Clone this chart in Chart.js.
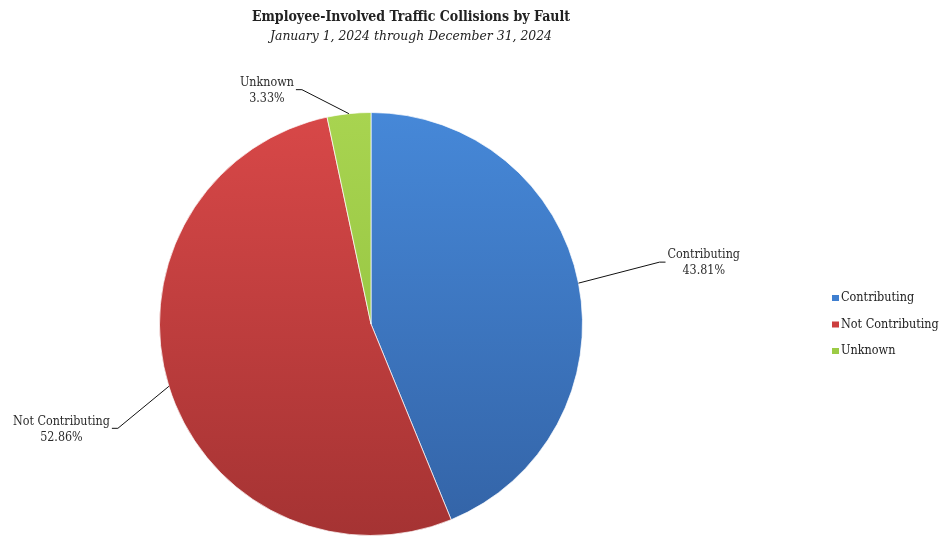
<!DOCTYPE html>
<html>
<head>
    <title>Collisions by Fault</title>
    <meta charset="utf-8">
    <style>
        body{ margin:0; background:#fff;}
        .wrapper{position:relative; width:942px; height:538px;}
    </style>
    <script src="https://cdn.jsdelivr.net/npm/chart.js@4.4.1/dist/chart.umd.min.js"></script>
</head>
<body>
    <div class="wrapper">
        <canvas id="myChart" width="942" height="538"></canvas>
    </div>

    <script>
        // data
        var categories = ['Contributing', 'Not Contributing', 'Unknown'];
        var shares = [43.81, 52.86, 3.33];
        var pctLabels = ['43.81%', '52.86%', '3.33%'];

        var titleText = 'Employee-Involved Traffic Collisions by Fault';
        var subtitleText = 'January 1, 2024 through December 31, 2024';

        // colours: [top, bottom] of each slice
        var sliceColors = [
            ['#4688d8', '#3363a6'],
            ['#d84848', '#a53333'],
            ['#a8d450', '#8cbc3a']
        ];
        var legendColors = ['#3f7fd0', '#cc3e3e', '#9ccb45'];

        // where each leader line bends, relative to the slice's edge point
        var leaderStyle = [
            { dx: 81, dy: -21, side: 1 },
            { dx: -51, dy: 42, side: -1 },
            { dx: -47, dy: -24, side: -1 }
        ];

        var labelFont = '12.4px "DejaVu Serif Condensed", "DejaVu Serif", serif';

        function sliceFill(ctx) {
            var chart = ctx.chart;
            var area = chart.chartArea;
            if (!area) return sliceColors[ctx.dataIndex][0];
            var g = chart.ctx.createLinearGradient(0, area.top, 0, area.bottom);
            g.addColorStop(0, sliceColors[ctx.dataIndex][0]);
            g.addColorStop(1, sliceColors[ctx.dataIndex][1]);
            return g;
        }

        /* titles, leader labels and legend */
        var decorPlugin = {
            id: 'decor',
            afterDraw: function(chart) {
                var c = chart.ctx;
                c.save();
                // titles
                c.fillStyle = '#222';
                c.textAlign = 'center';
                c.textBaseline = 'middle';
                c.font = 'bold 14px "DejaVu Serif Condensed", "DejaVu Serif", serif';
                c.fillText(titleText, 411, 17);
                c.font = 'italic 13.8px "DejaVu Serif Condensed", "DejaVu Serif", serif';
                c.fillText(subtitleText, 411, 36);

                // leader lines + labels
                var meta = chart.getDatasetMeta(0);
                meta.data.forEach(function(arc, i) {
                    var mid = (arc.startAngle + arc.endAngle) / 2;
                    var ax = arc.x + Math.cos(mid) * arc.outerRadius;
                    var ay = arc.y + Math.sin(mid) * arc.outerRadius;
                    var s = leaderStyle[i];
                    var ex = ax + s.dx, ey = ay + s.dy;
                    var hx = ex + 6 * s.side;
                    c.strokeStyle = '#111';
                    c.lineWidth = 1;
                    c.beginPath();
                    c.moveTo(ax, ay);
                    c.lineTo(ex, ey);
                    c.lineTo(hx, ey);
                    c.stroke();

                    c.font = labelFont;
                    c.fillStyle = '#2a2a2a';
                    var w = Math.max(c.measureText(categories[i]).width, c.measureText(pctLabels[i]).width);
                    var cx = s.side > 0 ? hx + 2 + w / 2 : hx - 2 - w / 2;
                    c.textAlign = 'center';
                    c.fillText(categories[i], cx, ey - 7);
                    c.fillText(pctLabels[i], cx, ey + 9);
                });

                // legend
                c.textAlign = 'left';
                categories.forEach(function(name, i) {
                    var y = 298 + i * 26.5;
                    c.fillStyle = legendColors[i];
                    c.fillRect(832, y - 3, 7, 6);
                    c.fillStyle = '#222';
                    c.font = '12.5px "DejaVu Serif Condensed", "DejaVu Serif", serif';
                    c.fillText(name, 841, y);
                });
                c.restore();
            }
        };

        const chartdata = {
            labels: categories,
            datasets: [{
                data: shares,
                backgroundColor: sliceFill,
                borderColor: 'rgba(255,255,255,0.7)',
                borderWidth: 1
            }]
        };
        const config = {
            type: 'pie',
            data: chartdata,
            options: {
                animation: false,
                responsive: false,
                layout: { padding: { top: 112, bottom: 2, left: 0, right: 200 } },
                plugins: {
                    legend: { display: false },
                    tooltip: { enabled: false }
                }
            },
            plugins: [decorPlugin]
        };
        var myChart = new Chart(document.getElementById('myChart'), config);
    </script>
</body>
</html>
